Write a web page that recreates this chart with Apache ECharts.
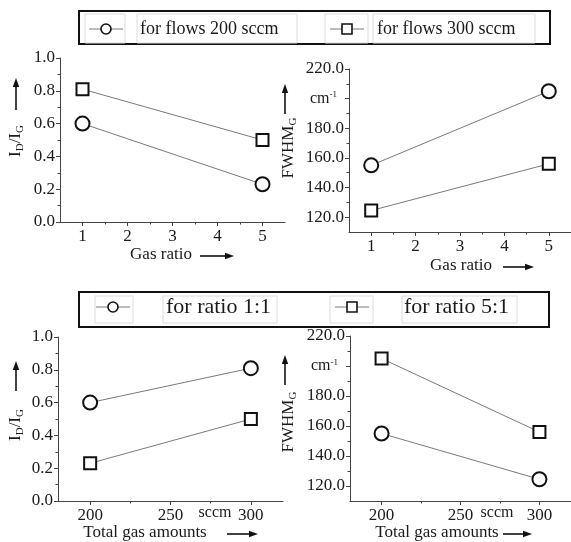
<!DOCTYPE html>
<html><head><meta charset="utf-8">
<script src="https://cdn.jsdelivr.net/npm/echarts@6/dist/echarts.min.js"></script>
<style>html,body{margin:0;padding:0;background:#fff}#chart{width:571px;height:542px}</style>
</head><body><div id="chart"></div>
<script>
// Process variables
const gasRatios = [1, 5];
const totalFlows = [200, 300];

// I_D/I_G at gas ratio 1 and 5
const idIgFlow200 = [0.60, 0.23];
const idIgFlow300 = [0.81, 0.50];
// FWHM of the G band (cm-1) at gas ratio 1 and 5
const fwhmFlow200 = [155, 205];
const fwhmFlow300 = [124.5, 156];

// Same measurements regrouped by gas ratio, across total flows 200 / 300 sccm
const idIgRatio11 = [idIgFlow200[0], idIgFlow300[0]];
const idIgRatio51 = [idIgFlow200[1], idIgFlow300[1]];
const fwhmRatio11 = [fwhmFlow200[0], fwhmFlow300[0]];
const fwhmRatio51 = [fwhmFlow200[1], fwhmFlow300[1]];

// Tick values
const ratioTicks = [1, 2, 3, 4, 5];
const ratioMinorTicks = [1.5, 2.5, 3.5, 4.5];
const flowTicks = [200, 250, 300];
const flowMinorTicks = [225, 275];
const idIgTicks = [0, 0.2, 0.4, 0.6, 0.8, 1.0];
const idIgMinorTicks = [0.1, 0.3, 0.5, 0.7, 0.9];
const fwhmTicks = [120, 140, 160, 180, 200, 220];
const fwhmMinorTicks = [130, 150, 170, 190, 210];

const SERIF = 'Liberation Serif';
const AXIS_COLOR = '#444';
const TEXT_COLOR = '#1a1a1a';

const chart = echarts.init(document.getElementById('chart'), null, {renderer: 'canvas'});

const panelBoxes = [
  {left: 60, top: 58, width: 225, height: 164},
  {left: 349, top: 69, width: 225, height: 163},
  {left: 58, top: 337, width: 225, height: 164},
  {left: 350, top: 336, width: 225, height: 165}
];

const fwhmFmt = v => v === 200 ? '{u|cm}{p|-1}' : v.toFixed(1);

const panels = [
  {x: {min: 0.5, max: 5.5, ticks: ratioTicks, minor: ratioMinorTicks, fmt: v => String(v)},
   y: {min: 0, max: 1, ticks: idIgTicks, minor: idIgMinorTicks, fmt: v => v.toFixed(1)},
   series: [{sym: 'circle', xs: gasRatios, ys: idIgFlow200}, {sym: 'rect', xs: gasRatios, ys: idIgFlow300}]},
  {x: {min: 0.5, max: 5.5, ticks: ratioTicks, minor: ratioMinorTicks, fmt: v => String(v)},
   y: {min: 110, max: 220, ticks: fwhmTicks, minor: fwhmMinorTicks, fmt: fwhmFmt},
   series: [{sym: 'circle', xs: gasRatios, ys: fwhmFlow200}, {sym: 'rect', xs: gasRatios, ys: fwhmFlow300}]},
  {x: {min: 180, max: 320, ticks: flowTicks, minor: flowMinorTicks, fmt: v => String(v)},
   y: {min: 0, max: 1, ticks: idIgTicks, minor: idIgMinorTicks, fmt: v => v.toFixed(1)},
   series: [{sym: 'circle', xs: totalFlows, ys: idIgRatio11}, {sym: 'rect', xs: totalFlows, ys: idIgRatio51}]},
  {x: {min: 180, max: 320, ticks: flowTicks, minor: flowMinorTicks, fmt: v => String(v)},
   y: {min: 110, max: 220, ticks: fwhmTicks, minor: fwhmMinorTicks, fmt: fwhmFmt},
   series: [{sym: 'circle', xs: totalFlows, ys: fwhmRatio11}, {sym: 'rect', xs: totalFlows, ys: fwhmRatio51}]}
];

const grid = [], xAxis = [], yAxis = [], series = [];

const labelRich = {
  u: {fontFamily: SERIF, fontSize: 16, color: TEXT_COLOR},
  p: {fontFamily: SERIF, fontSize: 9, color: TEXT_COLOR, verticalAlign: 'top', lineHeight: 10, padding: [0, 7, 0, 0]}
};

function mainAxis(cfg, gi, isY) {
  return {
    type: 'value', gridIndex: gi, min: cfg.min, max: cfg.max,
    position: isY ? 'left' : 'bottom',
    splitLine: {show: false},
    axisLine: {show: true, onZero: false, lineStyle: {color: AXIS_COLOR, width: 1}},
    axisTick: {show: true, inside: false, length: 4, customValues: cfg.ticks, lineStyle: {color: AXIS_COLOR, width: 1}},
    axisLabel: {
      show: true, customValues: cfg.ticks, formatter: cfg.fmt, margin: isY ? 5 : 6,
      fontFamily: SERIF, fontSize: 17, color: TEXT_COLOR, rich: labelRich,
      showMinLabel: true, showMaxLabel: true, hideOverlap: false
    }
  };
}
function minorAxis(cfg, gi, isY) {
  return {
    type: 'value', gridIndex: gi, min: cfg.min, max: cfg.max,
    position: isY ? 'left' : 'bottom',
    splitLine: {show: false},
    axisLine: {show: false, onZero: false},
    axisTick: {show: true, inside: false, length: 2.5, customValues: cfg.minor, lineStyle: {color: AXIS_COLOR, width: 1}},
    axisLabel: {show: false}
  };
}

panels.forEach((p, i) => {
  grid.push(Object.assign({containLabel: false}, panelBoxes[i]));
  xAxis.push(mainAxis(p.x, i, false));
  yAxis.push(mainAxis(p.y, i, true));
});
// overlay grids carrying only the minor ticks
panels.forEach((p, i) => {
  const gi = i + 4;
  grid.push(Object.assign({containLabel: false}, panelBoxes[i]));
  xAxis.push(minorAxis(p.x, gi, false));
  yAxis.push(minorAxis(p.y, gi, true));
});
panels.forEach((p, i) => {
  p.series.forEach(s => {
    series.push({
      type: 'line', xAxisIndex: i, yAxisIndex: i,
      data: s.xs.map((x, k) => [x, s.ys[k]]),
      symbol: s.sym, symbolSize: s.sym === 'circle' ? 14 : 12,
      showSymbol: true, clip: false,
      lineStyle: {color: '#7a7a7a', width: 1},
      itemStyle: {color: '#fff', borderColor: '#111', borderWidth: 2},
      z: 3, silent: true
    });
  });
});

// ---------- annotation graphics ----------
const graphic = [];

function arrow(x1, y1, x2, y2) {
  const dx = x2 - x1, dy = y2 - y1, len = Math.hypot(dx, dy);
  const ux = dx / len, uy = dy / len, hl = 9, hw = 3.2;
  const bx = x2 - ux * hl, by = y2 - uy * hl;
  graphic.push({type: 'line', silent: true, shape: {x1, y1, x2: bx, y2: by},
    style: {stroke: '#111', lineWidth: 1.6}});
  graphic.push({type: 'polygon', silent: true,
    shape: {points: [[x2, y2], [bx - uy * hw, by + ux * hw], [bx + uy * hw, by - ux * hw]]},
    style: {fill: '#111'}});
}

const subRich = {
  s: {fontFamily: SERIF, fontSize: 11, lineHeight: 8, verticalAlign: 'bottom', fill: TEXT_COLOR}
};
function vTitle(x, y, text) {
  graphic.push({type: 'text', silent: true, x, y, rotation: Math.PI / 2,
    style: {text, fontFamily: SERIF, fontSize: 17, lineHeight: 20, fill: TEXT_COLOR,
      align: 'center', verticalAlign: 'middle', rich: subRich}});
}
function hTitle(x, y, text) {
  graphic.push({type: 'text', silent: true, x, y,
    style: {text, fontFamily: SERIF, fontSize: 17, fill: TEXT_COLOR, align: 'center', verticalAlign: 'middle'}});
}

// vertical axis titles
vTitle(16, 141, 'I{s|D}/I{s|G}');
arrow(16, 110, 16, 78);
vTitle(289, 148, 'FWHM{s|G}');
arrow(285, 114, 285, 84);
vTitle(16, 425, 'I{s|D}/I{s|G}');
arrow(16, 391, 16, 361);
vTitle(289, 422, 'FWHM{s|G}');
arrow(285, 385, 285, 355);

// horizontal axis titles
hTitle(161, 255, 'Gas ratio');
arrow(200, 256, 234, 256);
hTitle(461, 266, 'Gas ratio');
arrow(503, 267, 534, 267);
hTitle(145, 533, 'Total gas amounts');
arrow(227, 534, 258, 534);
hTitle(437, 533, 'Total gas amounts');
arrow(503, 534, 532, 534);

// unit marks on the flow axes
graphic.push({type: 'text', silent: true, x: 215, y: 513,
  style: {text: 'sccm', fontFamily: SERIF, fontSize: 16, fill: TEXT_COLOR, align: 'center', verticalAlign: 'middle'}});
graphic.push({type: 'text', silent: true, x: 497, y: 513,
  style: {text: 'sccm', fontFamily: SERIF, fontSize: 16, fill: TEXT_COLOR, align: 'center', verticalAlign: 'middle'}});

// legend boxes
function legendBox(box, entries, fontSize) {
  graphic.push({type: 'rect', silent: true, shape: box,
    style: {fill: '#fff', stroke: '#111', lineWidth: 2}, z: 10});
  entries.forEach(e => {
    graphic.push({type: 'rect', silent: true, shape: e.symCell, style: {fill: 'none', stroke: '#dcdcdc', lineWidth: 1}, z: 11});
    graphic.push({type: 'rect', silent: true, shape: e.textCell, style: {fill: 'none', stroke: '#dcdcdc', lineWidth: 1}, z: 11});
    graphic.push({type: 'line', silent: true, shape: {x1: e.cx - 17, y1: e.cy, x2: e.cx + 17, y2: e.cy},
      style: {stroke: '#7a7a7a', lineWidth: 1}, z: 12});
    if (e.sym === 'circle') {
      graphic.push({type: 'circle', silent: true, shape: {cx: e.cx, cy: e.cy, r: 5},
        style: {fill: '#fff', stroke: '#111', lineWidth: 1.6}, z: 13});
    } else {
      graphic.push({type: 'rect', silent: true, shape: {x: e.cx - 5, y: e.cy - 5, width: 10, height: 10},
        style: {fill: '#fff', stroke: '#111', lineWidth: 1.6}, z: 13});
    }
    graphic.push({type: 'text', silent: true, x: e.tx, y: e.cy,
      style: {text: e.text, fontFamily: SERIF, fontSize, fill: TEXT_COLOR, align: 'left', verticalAlign: 'middle'}, z: 13});
  });
}

legendBox({x: 79, y: 11, width: 471, height: 33}, [
  {sym: 'circle', cx: 106, cy: 29, tx: 140, text: 'for flows 200 sccm',
   symCell: {x: 85, y: 14, width: 40, height: 29}, textCell: {x: 137, y: 14, width: 160, height: 29}},
  {sym: 'rect', cx: 347, cy: 29, tx: 377, text: 'for flows 300 sccm',
   symCell: {x: 325, y: 14, width: 43, height: 29}, textCell: {x: 373, y: 14, width: 162, height: 29}}
], 18);

legendBox({x: 79, y: 292, width: 470, height: 35}, [
  {sym: 'circle', cx: 113, cy: 307, tx: 166, text: 'for ratio 1:1',
   symCell: {x: 95, y: 296, width: 38, height: 27}, textCell: {x: 163, y: 296, width: 114, height: 27}},
  {sym: 'rect', cx: 352, cy: 307, tx: 404, text: 'for ratio 5:1',
   symCell: {x: 330, y: 296, width: 43, height: 27}, textCell: {x: 402, y: 296, width: 115, height: 27}}
], 22);

chart.setOption({
  animation: false,
  backgroundColor: '#fff',
  grid, xAxis, yAxis, series, graphic
});
</script>
</body></html>
